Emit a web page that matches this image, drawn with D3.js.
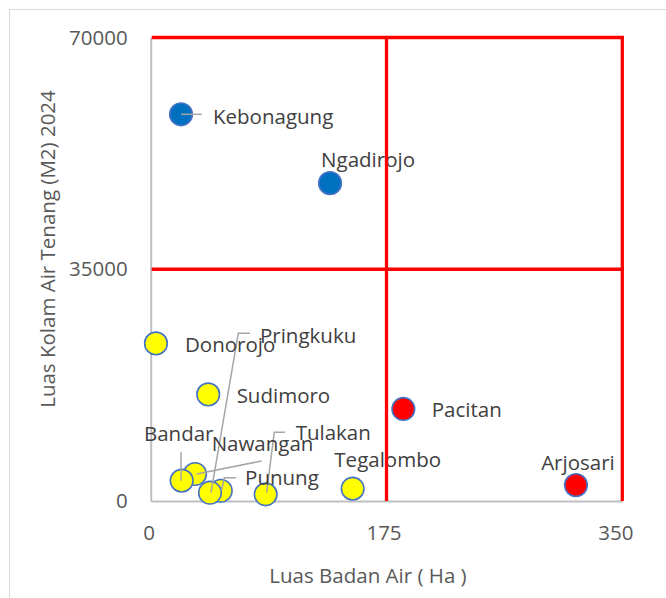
<!DOCTYPE html>
<html>
<head>
<meta charset="utf-8">
<script src="https://cdn.jsdelivr.net/npm/d3@7"></script>
<style>
  body { margin: 0; background: #fff; }
  svg text { font-family: "Open Sans", "Noto Sans", sans-serif; }
</style>
</head>
<body>
<div id="scatter-chart"></div>
<script>
// Kecamatan names, in the order the points are drawn
var names = ["Donorojo", "Punung", "Pringkuku", "Pacitan", "Kebonagung", "Arjosari",
             "Nawangan", "Bandar", "Tegalombo", "Tulakan", "Ngadirojo", "Sudimoro"];
// Luas Badan Air (Ha)
var badanAir = [3.9, 52, 44, 187.5, 22.5, 315.6, 32.9, 23, 149.9, 85.3, 133.1, 42.7];
// Luas Kolam Air Tenang (M2) 2024
var kolam = [23800, 1550, 1250, 13900, 58400, 2400, 4080, 3070, 1860, 1010, 48000, 16100];
// Quadrant each kecamatan falls in
var kuadran = ["rendah", "rendah", "rendah", "kanan", "atas", "kanan",
               "rendah", "rendah", "rendah", "rendah", "atas", "rendah"];

var xTicks = [0, 175, 350];
var yTicks = [0, 35000, 70000];
var xDomain = [0, 350];
var yDomain = [0, 70000];
// quadrant dividers
var xLines = [175, 350];
var yLines = [35000, 70000];

var xTitle = "Luas Badan Air ( Ha )";
var yTitle = "Luas Kolam Air Tenang (M2) 2024";

var fills = { atas: "#0070C0", kanan: "#FF0000", rendah: "#FFFF00" };

// label offsets (px from the point); leaders are polylines in px from the point
var labelPos = {
    Kebonagung: { dx: 32, dy: 10, anchor: "start", leader: [[0, 0], [20.7, 0]] },
    Ngadirojo:  { dx: 38, dy: -16.6, anchor: "middle" },
    Donorojo:   { dx: 29, dy: 8.4, anchor: "start" },
    Sudimoro:   { dx: 28.4, dy: 9, anchor: "start" },
    Pacitan:    { dx: 28.4, dy: 8.3, anchor: "start" },
    Arjosari:   { dx: 2, dy: -15, anchor: "middle" },
    Tegalombo:  { dx: 35, dy: -22, anchor: "middle" },
    Bandar:     { dx: -3, dy: -40, anchor: "middle", leader: [[-0.7, -29], [-0.7, 0]] },
    Nawangan:   { dx: 67.5, dy: -23.3, anchor: "middle", leader: [[66.7, -13], [1.7, 0]] },
    Pringkuku:  { dx: 50, dy: -150, anchor: "start", leader: [[40, -159.4], [28.3, -159.4], [1, 0]] },
    Punung:     { dx: 24.3, dy: -5.7, anchor: "start", leader: [[15.3, -13], [3.6, -13], [0.6, 0]] },
    Tulakan:    { dx: 30, dy: -54.3, anchor: "start", leader: [[19.3, -62], [8.6, -62], [1, -1.6]] }
};

var points = names.map(function(n, i) {
    return { name: n, x: badanAir[i], y: kolam[i], k: kuadran[i] };
});

var W = 666, H = 598;
var svg = d3.select("#scatter-chart").append("svg")
    .attr("width", W)
    .attr("height", H);

// outer chart border (only top and left are in view)
svg.append("rect")
    .attr("x", 9.5).attr("y", 9.5)
    .attr("width", W + 20).attr("height", H + 20)
    .attr("fill", "none")
    .attr("stroke", "#d9d9d9");

var x = d3.scaleLinear().domain(xDomain).range([150.7, 622.3]);
var y = d3.scaleLinear().domain(yDomain).range([501, 37.5]);

var fontSize = 20.5;

// axes
var xAxis = d3.axisBottom(x).tickValues(xTicks).tickFormat(d3.format("d"))
    .tickSize(0).tickSizeOuter(0).tickPadding(24);
var yAxis = d3.axisLeft(y).tickValues(yTicks).tickFormat(d3.format("d"))
    .tickSize(0).tickSizeOuter(0).tickPadding(23);

var gx = svg.append("g")
    .attr("transform", "translate(0," + y(0) + ")")
    .call(xAxis);
var gy = svg.append("g")
    .attr("transform", "translate(" + x(0) + ",0)")
    .call(yAxis);

[gx, gy].forEach(function(g) {
    g.select(".domain").attr("stroke", "#bfbfbf").attr("stroke-width", 2);
    g.selectAll("text")
        .attr("fill", "#595959")
        .style("font-size", fontSize + "px")
        .style("font-family", "'Open Sans', sans-serif");
});
gx.selectAll(".tick text").attr("dx", function(d) { return d === 350 ? -7 : (d === 175 ? -3 : -2); });

// axis titles
svg.append("text")
    .attr("x", 368).attr("y", 583)
    .attr("text-anchor", "middle")
    .attr("fill", "#595959")
    .style("font-size", fontSize + "px")
    .text(xTitle);

svg.append("text")
    .attr("transform", "translate(55,249) rotate(-90)")
    .attr("text-anchor", "middle")
    .attr("fill", "#595959")
    .style("font-size", fontSize + "px")
    .text(yTitle);

// points
svg.append("g").selectAll("circle")
    .data(points)
    .enter()
    .append("circle")
    .attr("cx", function(d) { return x(d.x); })
    .attr("cy", function(d) { return y(d.y); })
    .attr("r", 11.3)
    .attr("fill", function(d) { return fills[d.k]; })
    .attr("stroke", "#4472C4")
    .attr("stroke-width", 1.6);

// leader lines
var line = d3.line();
svg.append("g").selectAll("path")
    .data(points.filter(function(d) { return labelPos[d.name].leader; }))
    .enter()
    .append("path")
    .attr("d", function(d) {
        var px = x(d.x), py = y(d.y);
        return line(labelPos[d.name].leader.map(function(p) { return [px + p[0], py + p[1]]; }));
    })
    .attr("fill", "none")
    .attr("stroke", "#a6a6a6")
    .attr("stroke-width", 1.5);

// data labels
svg.append("g").selectAll("text")
    .data(points)
    .enter()
    .append("text")
    .attr("x", function(d) { return x(d.x) + labelPos[d.name].dx; })
    .attr("y", function(d) { return y(d.y) + labelPos[d.name].dy; })
    .attr("text-anchor", function(d) { return labelPos[d.name].anchor; })
    .attr("fill", "#404040")
    .style("font-size", fontSize + "px")
    .text(function(d) { return d.name; });

// red quadrant lines
var red = svg.append("g").attr("stroke", "#FF0000").attr("stroke-width", 3.3);
red.selectAll("line.v")
    .data(xLines)
    .enter()
    .append("line")
    .attr("x1", function(d) { return x(d); })
    .attr("x2", function(d) { return x(d); })
    .attr("y1", y(yDomain[0]))
    .attr("y2", y(yDomain[1]) - 1.6);
red.selectAll("line.h")
    .data(yLines)
    .enter()
    .append("line")
    .attr("x1", x(xDomain[0]) + 1)
    .attr("x2", x(xDomain[1]) + 1.6)
    .attr("y1", function(d) { return y(d); })
    .attr("y2", function(d) { return y(d); });
</script>
</body>
</html>
